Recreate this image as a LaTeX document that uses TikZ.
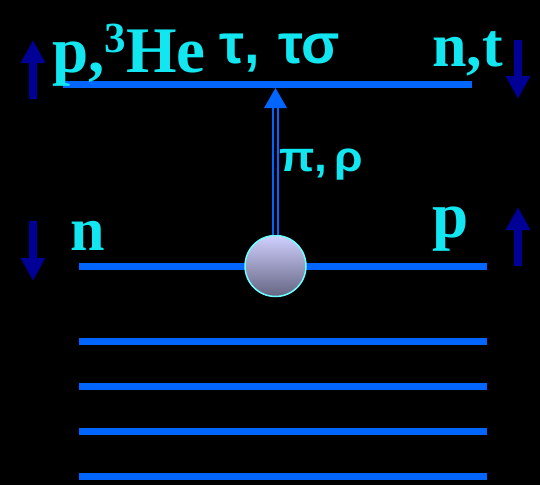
\documentclass[tikz,border=0pt]{standalone}
\usepackage{fontspec}
\setmainfont{Liberation Serif}
\newfontfamily\greek{Liberation Sans}
\usetikzlibrary{arrows.meta}
\definecolor{lineblue}{RGB}{0,102,255}
\definecolor{txtcyan}{RGB}{18,230,240}
\definecolor{spinblue}{RGB}{0,0,150}
\definecolor{balltop}{RGB}{208,208,255}
\definecolor{ballbot}{RGB}{100,100,130}
\definecolor{ballrim}{RGB}{110,255,255}
\tikzset{
  level/.style={draw=lineblue, line width=7pt},
  spin/.style={draw=spinblue, line width=8pt, -{Triangle[width=23pt,length=23pt]}},
  lbl/.style={text=txtcyan, inner sep=0pt, anchor=base west, font=\bfseries},
  glbl/.style={text=txtcyan, inner sep=0pt, anchor=base west},
  meson/.style={draw=lineblue, line width=2pt, double=black, double distance=2.6pt},
}
\begin{document}
\begin{tikzpicture}[x=1pt,y=-1pt]
\fill[black] (0,0) rectangle (540,485);
\useasboundingbox (0,0) rectangle (540,485);
% levels
\coordinate (t1) at (63,84.5);  \coordinate (t2) at (472,84.5);
\draw[level] (t1) -- (t2);
\foreach \y/\n in {266/a,341/b,386/c,431/d,476/e}{
  \coordinate (l\n1) at (79,\y); \coordinate (l\n2) at (487,\y);
  \draw[level] (l\n1) -- (l\n2);
}
% meson exchange
\coordinate (tip) at (275.5,88);
\node[circle, minimum size=61pt, inner sep=0pt, top color=balltop, bottom color=ballbot,
      draw=ballrim, line width=1.5pt] (ball) at (275.5,266) {};
\coordinate (base) at (275.5,107);
\draw[meson] (ball.north) -- (base);
\fill[lineblue] (tip) -- ++(-11.5,20) -- ++(23,0) -- cycle;
% spin arrows
\coordinate (s1a) at (33,99);  \coordinate (s1b) at (33,40);
\coordinate (s2a) at (518,40); \coordinate (s2b) at (518,99);
\coordinate (s3a) at (33,221); \coordinate (s3b) at (33,281);
\coordinate (s4a) at (518,266);\coordinate (s4b) at (518,207);
\draw[spin] (s1a) -- (s1b);
\draw[spin] (s2a) -- (s2b);
\draw[spin] (s3a) -- (s3b);
\draw[spin] (s4a) -- (s4b);
% labels
\node[lbl, font=\bfseries\fontsize{65}{65}\selectfont] (lp) at (52,72)
  {p,\raisebox{20pt}{\fontsize{43}{43}\selectfont 3}He};
\node[glbl, font=\greek\bfseries\fontsize{56}{56}\selectfont] (ltau) at (219,63) {τ,\kern3pt{} τσ};
\node[lbl, font=\bfseries\fontsize{62}{62}\selectfont] (lnt) at (432,66) {n,t};
\node[lbl, font=\bfseries\fontsize{62}{62}\selectfont] (ln) at (70,250) {n};
\node[lbl, font=\bfseries\fontsize{65}{65}\selectfont] (lp2) at (432,237) {p};
\node[glbl, font=\greek\bfseries\fontsize{42}{42}\selectfont, xscale=1.1] (lpi) at (279,171) {π,\kern6ptρ};
\end{tikzpicture}
\end{document}
